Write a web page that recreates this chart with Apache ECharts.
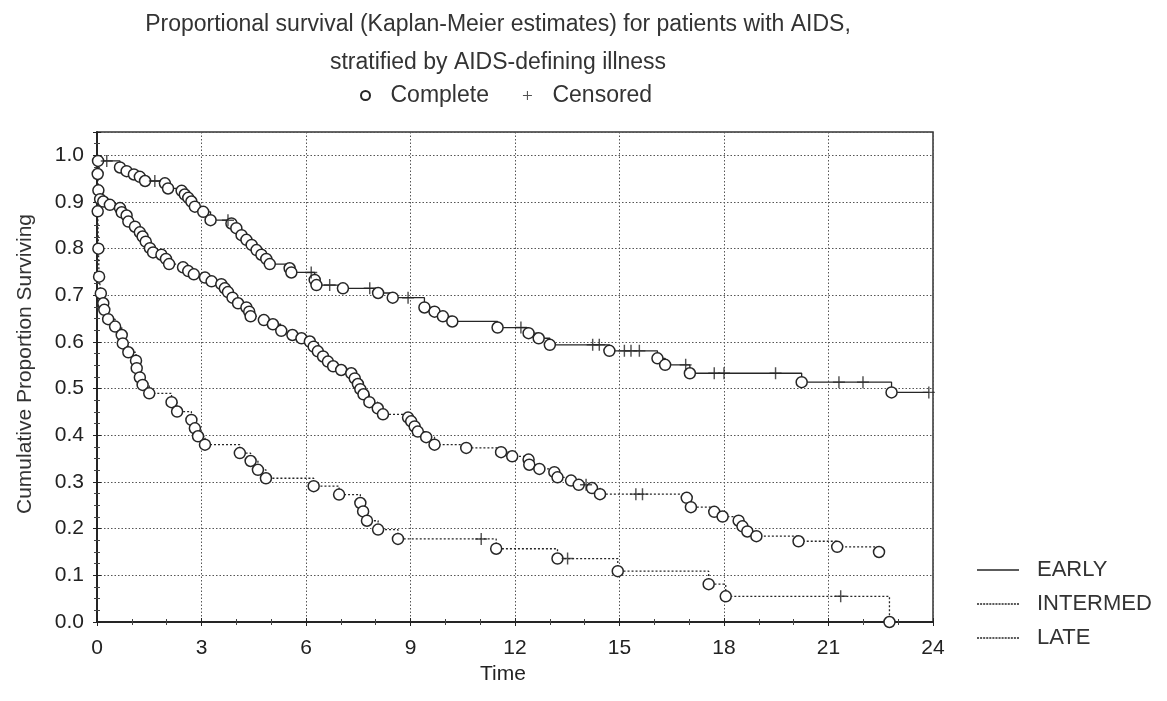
<!DOCTYPE html>
<html>
<head>
<meta charset="utf-8">
<script src="https://cdn.jsdelivr.net/npm/echarts@6/dist/echarts.min.js"></script>
<style>
  html, body { margin: 0; padding: 0; background: #fff; }
  #chart { width: 1167px; height: 701px; }
</style>
</head>
<body>
<div id="chart"></div>
<script>
// event (complete) times and survival after each event
const earlyTime = [0.03, 0.66, 0.85, 1.06, 1.23, 1.38, 1.95, 2.04, 2.43, 2.52, 2.62, 2.71, 2.81, 3.05, 3.26, 3.86, 4.00, 4.15, 4.29, 4.44, 4.58, 4.72, 4.86, 4.96, 5.53, 5.58, 6.25, 6.30, 7.06, 8.07, 8.49, 9.40, 9.69, 9.93, 10.20, 11.50, 12.39, 12.68, 13.00, 14.71, 16.09, 16.31, 17.02, 20.23, 22.81]
const earlySurv = [0.988, 0.974, 0.966, 0.959, 0.954, 0.945, 0.940, 0.929, 0.924, 0.916, 0.909, 0.901, 0.890, 0.879, 0.861, 0.854, 0.844, 0.829, 0.819, 0.808, 0.797, 0.787, 0.778, 0.767, 0.758, 0.749, 0.733, 0.722, 0.715, 0.705, 0.695, 0.674, 0.665, 0.655, 0.644, 0.631, 0.619, 0.608, 0.594, 0.581, 0.565, 0.551, 0.533, 0.514, 0.492]
const earlyCensored = [0.28, 1.66, 3.76, 6.15, 6.68, 7.83, 8.93, 12.17, 14.23, 14.42, 15.14, 15.33, 15.57, 16.90, 17.72, 18.00, 19.48, 21.30, 21.99, 23.88]

const intermedTime = [0.02, 0.04, 0.09, 0.18, 0.37, 0.66, 0.71, 0.85, 0.90, 1.09, 1.23, 1.31, 1.40, 1.52, 1.61, 1.85, 1.98, 2.07, 2.47, 2.62, 2.78, 3.10, 3.29, 3.57, 3.67, 3.76, 3.89, 4.05, 4.29, 4.37, 4.41, 4.79, 5.05, 5.29, 5.61, 5.87, 6.11, 6.22, 6.34, 6.49, 6.63, 6.78, 7.01, 7.30, 7.40, 7.49, 7.56, 7.65, 7.82, 8.06, 8.21, 8.93, 9.02, 9.12, 9.21, 9.45, 9.69, 10.60, 11.60, 11.92, 12.39, 12.41, 12.70, 13.13, 13.22, 13.61, 13.83, 14.21, 14.44, 16.93, 17.05, 17.72, 17.96, 18.42, 18.53, 18.67, 18.93, 20.14, 21.25, 22.45]
const intermedSurv = [0.960, 0.925, 0.906, 0.901, 0.894, 0.887, 0.878, 0.871, 0.858, 0.847, 0.835, 0.826, 0.815, 0.801, 0.792, 0.787, 0.778, 0.767, 0.760, 0.752, 0.745, 0.738, 0.730, 0.724, 0.715, 0.707, 0.695, 0.683, 0.674, 0.665, 0.655, 0.647, 0.638, 0.624, 0.615, 0.608, 0.601, 0.590, 0.580, 0.569, 0.558, 0.548, 0.540, 0.533, 0.522, 0.510, 0.499, 0.488, 0.471, 0.458, 0.445, 0.438, 0.430, 0.419, 0.408, 0.396, 0.380, 0.373, 0.364, 0.355, 0.348, 0.337, 0.328, 0.321, 0.310, 0.303, 0.294, 0.287, 0.274, 0.266, 0.246, 0.236, 0.226, 0.217, 0.205, 0.194, 0.184, 0.173, 0.161, 0.150]
const intermedCensored = [14.04, 15.47, 15.66]

const lateTime = [0.02, 0.04, 0.06, 0.11, 0.18, 0.21, 0.32, 0.52, 0.71, 0.74, 0.90, 1.12, 1.14, 1.23, 1.31, 1.50, 2.14, 2.30, 2.71, 2.81, 2.90, 3.10, 4.10, 4.41, 4.62, 4.85, 6.22, 6.95, 7.56, 7.64, 7.75, 8.07, 8.64, 11.46, 13.22, 14.95, 17.56, 18.05, 22.75]
const lateSurv = [0.880, 0.800, 0.740, 0.704, 0.683, 0.669, 0.649, 0.633, 0.615, 0.597, 0.578, 0.560, 0.544, 0.524, 0.508, 0.490, 0.471, 0.451, 0.433, 0.415, 0.398, 0.380, 0.362, 0.345, 0.326, 0.308, 0.291, 0.273, 0.255, 0.237, 0.217, 0.198, 0.178, 0.157, 0.136, 0.109, 0.081, 0.055, 0.000]
const lateCensored = [11.03, 13.51, 21.35]

const groups = ['EARLY', 'INTERMED', 'LATE']
const xTicks = [0, 3, 6, 9, 12, 15, 18, 21, 24]

const ink = '#262626'
const font = '"Liberation Sans", Arial, sans-serif'

// survival level of the step curve at time t
function survAt(times, surv, t) {
    let s = 1
    for (let i = 0; i < times.length; i++) {
        if (times[i] <= t) s = surv[i]
    }
    return s
}

function stepPoints(times, surv, cens) {
    const pts = times.map((t, i) => [t, surv[i]])
    cens.forEach(t => pts.push([t, survAt(times, surv, t)]))
    pts.sort((a, b) => a[0] - b[0])
    return [[0, 1]].concat(pts)
}

const plusPath = 'path://M4.4,0H5.6V4.4H10V5.6H5.6V10H4.4V5.6H0V4.4H4.4Z'

// legend line icons: one solid, one made of short dashes
const solidIcon = 'path://M0,0H42V1.4H0Z'
let dotIcon = 'path://'
for (let i = 0; i < 14; i++) dotIcon += 'M' + (i * 3) + ',0H' + (i * 3 + 2) + 'V1.4H' + (i * 3) + 'Z'

const curves = [
    { name: groups[0], t: earlyTime, s: earlySurv, c: earlyCensored, type: 'solid' },
    { name: groups[1], t: intermedTime, s: intermedSurv, c: intermedCensored, type: [2, 2] },
    { name: groups[2], t: lateTime, s: lateSurv, c: lateCensored, type: [2, 2] }
]

const series = []
curves.forEach(g => {
    series.push({
        name: g.name,
        type: 'line',
        step: 'end',
        symbol: 'none',
        data: stepPoints(g.t, g.s, g.c),
        lineStyle: { color: ink, width: 1.3, type: g.type },
        itemStyle: { color: ink },
        z: 2
    })
})
curves.forEach(g => {
    series.push({
        name: 'Complete',
        type: 'scatter',
        symbol: 'circle',
        symbolSize: 11,
        data: g.t.map((t, i) => [t, g.s[i]]),
        itemStyle: { color: '#fff', borderColor: ink, borderWidth: 1.5, opacity: 1 },
        z: 3
    })
    series.push({
        name: 'Censored',
        type: 'scatter',
        symbol: plusPath,
        symbolSize: 12,
        data: g.c.map(t => [t, survAt(g.t, g.s, t)]),
        itemStyle: { color: ink },
        z: 4
    })
})

const chart = echarts.init(document.getElementById('chart'))
chart.setOption({
    animation: false,
    backgroundColor: '#fff',
    textStyle: { fontFamily: font },
    title: {
        text: 'Proportional survival (Kaplan-Meier estimates) for patients with AIDS,\nstratified by AIDS-defining illness',
        left: 493,
        top: 1,
        textAlign: 'center',
        textStyle: { fontFamily: font, fontSize: 23, fontWeight: 'normal', color: '#333', lineHeight: 38 }
    },
    legend: [
        {
            data: ['Complete', 'Censored'],
            orient: 'horizontal',
            left: 355,
            top: 79,
            itemWidth: 40,
            itemHeight: 9,
            itemGap: 34,
            selectedMode: false,
            textStyle: { fontFamily: font, fontSize: 23, color: '#333', lineHeight: 12 }
        },
        {
            data: [
                { name: groups[0], icon: solidIcon },
                { name: groups[1], icon: dotIcon },
                { name: groups[2], icon: dotIcon }
            ],
            orient: 'vertical',
            left: 972,
            top: 554,
            itemWidth: 42,
            itemHeight: 14,
            itemGap: 12,
            selectedMode: false,
            itemStyle: { color: ink },
            textStyle: { fontFamily: font, fontSize: 22, color: '#333', lineHeight: 14, padding: [0, 0, 0, 13] }
        }
    ],
    grid: {
        left: 97,
        right: 234,
        top: 132,
        bottom: 79,
        show: true,
        borderColor: '#333',
        borderWidth: 1.5,
        backgroundColor: 'transparent'
    },
    xAxis: [
        {
            type: 'value',
            min: xTicks[0],
            max: xTicks[xTicks.length - 1],
            interval: 3,
            name: 'Time',
            nameLocation: 'middle',
            nameGap: 41,
            nameTextStyle: { fontFamily: font, fontSize: 21, color: '#222', padding: [0, 24, 0, 0] },
            axisLine: { show: true, lineStyle: { color: '#222', width: 1.5 } },
            axisTick: { show: true, inside: true, length: 4, lineStyle: { color: '#222' } },
            minorTick: { show: true, splitNumber: 3, length: 3, lineStyle: { color: '#444' } },
            axisLabel: { fontFamily: font, fontSize: 21, color: '#222', margin: 16 },
            splitLine: { show: true, lineStyle: { color: '#555', width: 1, type: [1.5, 2] } }
        },
        {
            type: 'value',
            position: 'top',
            min: 0,
            max: 24,
            interval: 3,
            axisLine: { show: true, lineStyle: { color: '#222', width: 1.5 } },
            axisTick: { show: true, inside: true, length: 4, lineStyle: { color: '#222' } },
            minorTick: { show: true, splitNumber: 3, length: 3, lineStyle: { color: '#444' } },
            axisLabel: { show: false },
            splitLine: { show: false }
        }
    ],
    yAxis: [
        {
            type: 'value',
            min: 0,
            max: 1.05,
            interval: 0.1,
            name: 'Cumulative Proportion Surviving',
            nameLocation: 'middle',
            nameGap: 61,
            nameTextStyle: { fontFamily: font, fontSize: 21, color: '#333', padding: [0, 0, 0, 26] },
            axisLine: { show: true, lineStyle: { color: '#222', width: 1.5 } },
            axisTick: { show: true, inside: true, length: 4, lineStyle: { color: '#222' } },
            minorTick: { show: true, splitNumber: 4, length: 3, lineStyle: { color: '#444' } },
            axisLabel: {
                fontFamily: font, fontSize: 21, color: '#222', margin: 13,
                showMaxLabel: false,
                formatter: v => v.toFixed(1)
            },
            splitLine: { show: true, lineStyle: { color: '#555', width: 1, type: [1.5, 2] } }
        },
        {
            type: 'value',
            position: 'right',
            min: 0,
            max: 1.05,
            interval: 0.1,
            axisLine: { show: true, lineStyle: { color: '#222', width: 1.5 } },
            axisTick: { show: true, inside: true, length: 4, lineStyle: { color: '#222' } },
            minorTick: { show: true, splitNumber: 4, length: 3, lineStyle: { color: '#444' } },
            axisLabel: { show: false },
            splitLine: { show: false }
        }
    ],
    series: series
})
</script>
</body>
</html>
